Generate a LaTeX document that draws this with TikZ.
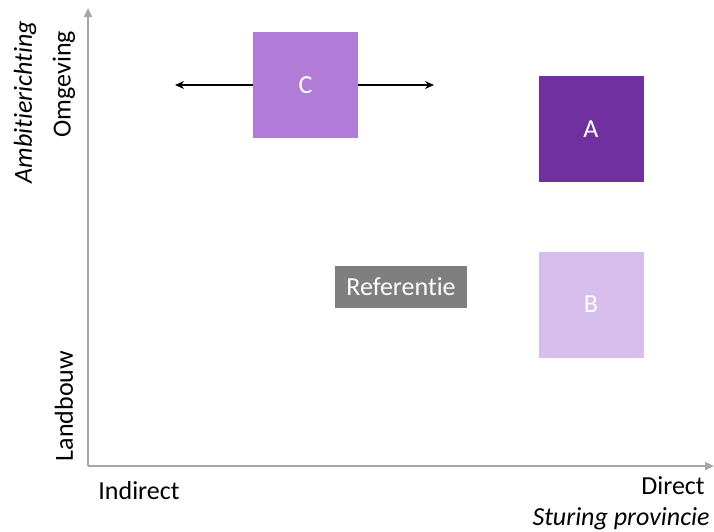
\documentclass[tikz,border=0pt]{standalone}
\usepackage{fontspec}
\setmainfont{Carlito}[Ligatures=NoCommon]
\usetikzlibrary{arrows.meta}
\definecolor{paarsA}{RGB}{112,48,160}
\definecolor{paarsB}{RGB}{216,190,236}
\definecolor{paarsC}{RGB}{176,124,216}
\definecolor{refgrijs}{RGB}{127,127,127}
\definecolor{asgrijs}{RGB}{166,166,166}

\begin{document}
\begin{tikzpicture}[x=1pt,y=-1pt,font=\fontsize{26}{31}\selectfont,
  vak/.style={minimum width=105pt,minimum height=106pt,inner sep=0pt,text=white},
  as/.style={draw=asgrijs,line width=2.5pt,-{Triangle[length=9pt,width=8pt]}},
  pijl/.style={black,line width=1.3pt,-{Stealth[length=9pt,width=8pt]}}]
\useasboundingbox (0,0) rectangle (714,532);
% assen
\coordinate (o) at (88,466);
\coordinate (ytop) at (88,8);
\coordinate (xend) at (714,466);
\draw [as] (o) -- (ytop);
\draw [as] (o) -- (xend);
% aslabels
\node (indirect) at (139,491) {Indirect};
\node (direct) at (673,486) {Direct};
\node (sturing) at (621,519) {\itshape Sturing provincie};
\node [rotate=90] (omgeving) at (64,84) {Omgeving};
\node [rotate=90] (landbouw) at (64,406) {Landbouw};
\node [rotate=90] (ambitie) at (25,102) {\itshape Ambitierichting};
% vakken
\node [vak,fill=paarsC] (c) at (305.5,85) {C};
\node [vak,fill=paarsA] (a) at (591,129) {A};
\node [vak,fill=paarsB] (b) at (591,304.5) {B};
\node [fill=refgrijs,text=white,minimum width=132pt,minimum height=42pt,inner sep=0pt] (ref) at (401,287) {Referentie};
% pijlen bij C
\coordinate (cl) at (175,85);
\coordinate (cr) at (434,85);
\draw [pijl] (c.west) -- (cl);
\draw [pijl] (c.east) -- (cr);
\end{tikzpicture}
\end{document}
